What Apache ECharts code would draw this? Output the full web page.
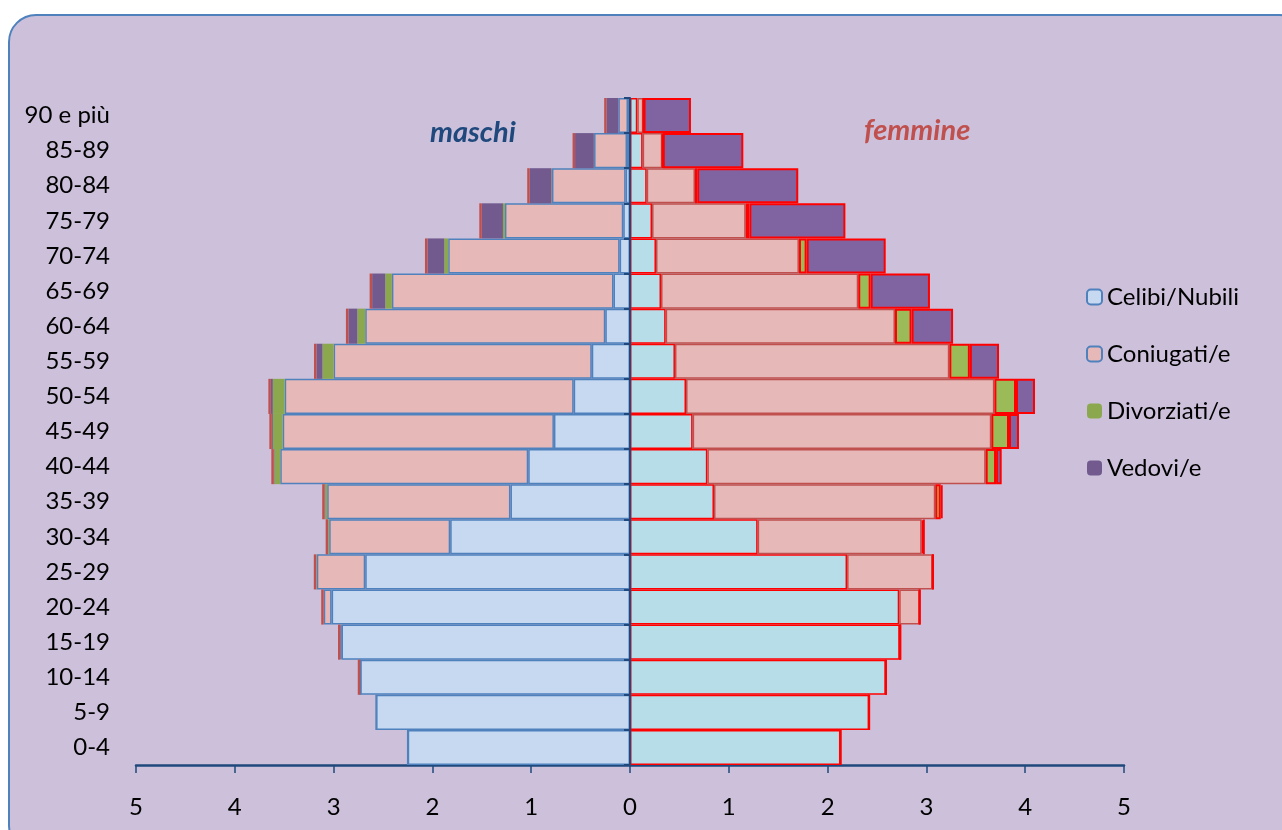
<!DOCTYPE html>
<html>
<head>
<meta charset="utf-8">
<script src="https://cdn.jsdelivr.net/npm/echarts@6/dist/echarts.min.js"></script>
<style>
  html, body { margin:0; padding:0; width:1282px; height:830px; overflow:hidden; background:#ffffff; }
  #card { position:absolute; left:8px; top:14px; width:1300px; height:840px; box-sizing:border-box;
          border:2px solid #4F81BD; border-radius:28px; background:#CCC0DA; }
  #chart { position:absolute; left:0; top:0; width:1282px; height:830px; }
</style>
</head>
<body>
<div id="card"></div>
<div id="chart"></div>
<script>
// Age classes (bottom to top)
const categories = ['0-4','5-9','10-14','15-19','20-24','25-29','30-34','35-39','40-44','45-49','50-54','55-59','60-64','65-69','70-74','75-79','80-84','85-89','90 e più'];
const xTicks = [-5,-4,-3,-2,-1,0,1,2,3,4,5];

// Males (% of population)
const maschiCelibi     = [2.25,2.57,2.73,2.92,3.02,2.68,1.82,1.21,1.03,0.77,0.57,0.387,0.25,0.167,0.105,0.068,0.044,0.03,0.02];
const maschiConiugati  = [0,0,0,0.01,0.08,0.49,1.225,1.855,2.51,2.745,2.925,2.613,2.43,2.243,1.735,1.198,0.746,0.334,0.098];
const maschiDivorziati = [0,0,0,0,0,0.005,0.01,0.02,0.06,0.10,0.12,0.113,0.08,0.067,0.04,0.02,0.005,0.002,0];
const maschiVedovi     = [0,0,0,0,0,0,0,0.005,0.005,0.01,0.02,0.06,0.09,0.133,0.17,0.214,0.22,0.19,0.118];

// Females (% of population)
const femmineNubili     = [2.13,2.42,2.59,2.73,2.725,2.197,1.292,0.85,0.783,0.634,0.567,0.455,0.361,0.314,0.263,0.223,0.169,0.128,0.074];
const femmineConiugate  = [0,0,0,0.005,0.207,0.865,1.66,2.24,2.817,3.023,3.121,2.777,2.321,1.996,1.447,0.948,0.489,0.199,0.061];
const femmineDivorziate = [0,0,0,0,0,0.005,0.02,0.055,0.105,0.179,0.219,0.208,0.168,0.126,0.078,0.037,0.022,0.005,0.002];
const femmineVedove     = [0,0,0,0,0,0,0.004,0.02,0.057,0.101,0.192,0.295,0.42,0.6,0.8,0.972,1.023,0.815,0.48];

const FONT = 'Lato, "Open Sans", sans-serif';
const neg = a => a.map(v => -v);

// left end of male bars (thin red edge), from data totals
const edgeData = categories.map((c, i) => [-(maschiCelibi[i] + maschiConiugati[i] + maschiDivorziati[i] + maschiVedovi[i]), i])
  .filter((d, i) => i >= 2);

const chart = echarts.init(document.getElementById('chart'), null, { renderer: 'canvas' });

const barBase = { type: 'bar', barCategoryGap: '0%', barGap: '-100%', yAxisIndex: 0 };

chart.setOption({
  backgroundColor: 'transparent',
  animation: false,
  textStyle: { fontFamily: FONT },
  grid: { left: 136, right: 158, top: 98, bottom: 65, containLabel: false },
  legend: {
    data: ['Celibi/Nubili','Coniugati/e','Divorziati/e','Vedovi/e'],
    orient: 'vertical', left: 1081, top: 280,
    itemWidth: 15, itemHeight: 15, itemGap: 33,
    textStyle: { fontSize: 24, color: '#000', fontFamily: FONT },
    selectedMode: false
  },
  graphic: [
    { type: 'text', left: 430, top: 118, style: { text: 'maschi', fill: '#1F497D', font: 'italic bold 29px ' + FONT } },
    { type: 'text', left: 864, top: 116, style: { text: 'femmine', fill: '#C0504D', font: 'italic bold 29px ' + FONT } }
  ],
  xAxis: {
    type: 'value', min: -5, max: 5, interval: 1,
    axisLine: { show: true, onZero: false, lineStyle: { color: '#1F497D', width: 2.5 } },
    axisTick: { show: true, length: 8, lineStyle: { color: '#1F497D', width: 1.5 } },
    axisLabel: { margin: 30, fontSize: 24, color: '#000', fontFamily: FONT,
                 formatter: v => String(Math.abs(v)) },
    splitLine: { show: false }
  },
  yAxis: [
    {
      type: 'category', data: categories, z: 10,
      axisLine: { show: true, onZero: true, lineStyle: { color: '#1F497D', width: 2 } },
      axisTick: { show: true, length: 6, lineStyle: { color: '#1F497D', width: 2 } },
      axisLabel: { show: false }
    },
    {
      type: 'category', data: categories, position: 'left',
      axisLine: { show: false, onZero: false }, axisTick: { show: false },
      axisLabel: { show: true, margin: 26, fontSize: 24, color: '#000', fontFamily: FONT }
    }
  ],
  series: [
    Object.assign({}, barBase, { name: 'Celibi/Nubili', stack: 'm', data: neg(maschiCelibi),
      itemStyle: { color: '#C6D9F1', borderColor: '#4F81BD', borderWidth: 1.5 } }),
    Object.assign({}, barBase, { name: 'Coniugati/e', stack: 'm', data: neg(maschiConiugati),
      itemStyle: { color: '#E6B9B8', borderColor: '#4F81BD', borderWidth: 1.5 } }),
    Object.assign({}, barBase, { name: 'Divorziati/e', stack: 'm', data: neg(maschiDivorziati),
      itemStyle: { color: '#8BA84F' } }),
    Object.assign({}, barBase, { name: 'Vedovi/e', stack: 'm', data: neg(maschiVedovi),
      itemStyle: { color: '#725A8F' } }),
    Object.assign({}, barBase, { name: 'Celibi/Nubili', stack: 'f', data: femmineNubili,
      itemStyle: { color: '#B7DDE8', borderColor: '#FF0000', borderWidth: 1.5 } }),
    Object.assign({}, barBase, { name: 'Coniugati/e', stack: 'f', data: femmineConiugate,
      itemStyle: { color: '#E6B9B8', borderColor: '#C0504D', borderWidth: 1.5 } }),
    Object.assign({}, barBase, { name: 'Divorziati/e', stack: 'f', data: femmineDivorziate,
      itemStyle: { color: '#9BBB59', borderColor: '#FF0000', borderWidth: 2 } }),
    Object.assign({}, barBase, { name: 'Vedovi/e', stack: 'f', data: femmineVedove,
      itemStyle: { color: '#8064A2', borderColor: '#FF0000', borderWidth: 2 } }),
    {
      type: 'custom', name: 'bordo', yAxisIndex: 0, z: 3, silent: true,
      data: edgeData, encode: { x: 0, y: 1 },
      renderItem: function (params, api) {
        const p = api.coord([api.value(0), api.value(1)]);
        const h = api.size([0, 1])[1];
        return { type: 'rect', shape: { x: p[0] - 2.5, y: p[1] - h / 2, width: 2.5, height: h },
                 style: { fill: '#C0504D' } };
      }
    }
  ]
});
</script>
</body>
</html>
